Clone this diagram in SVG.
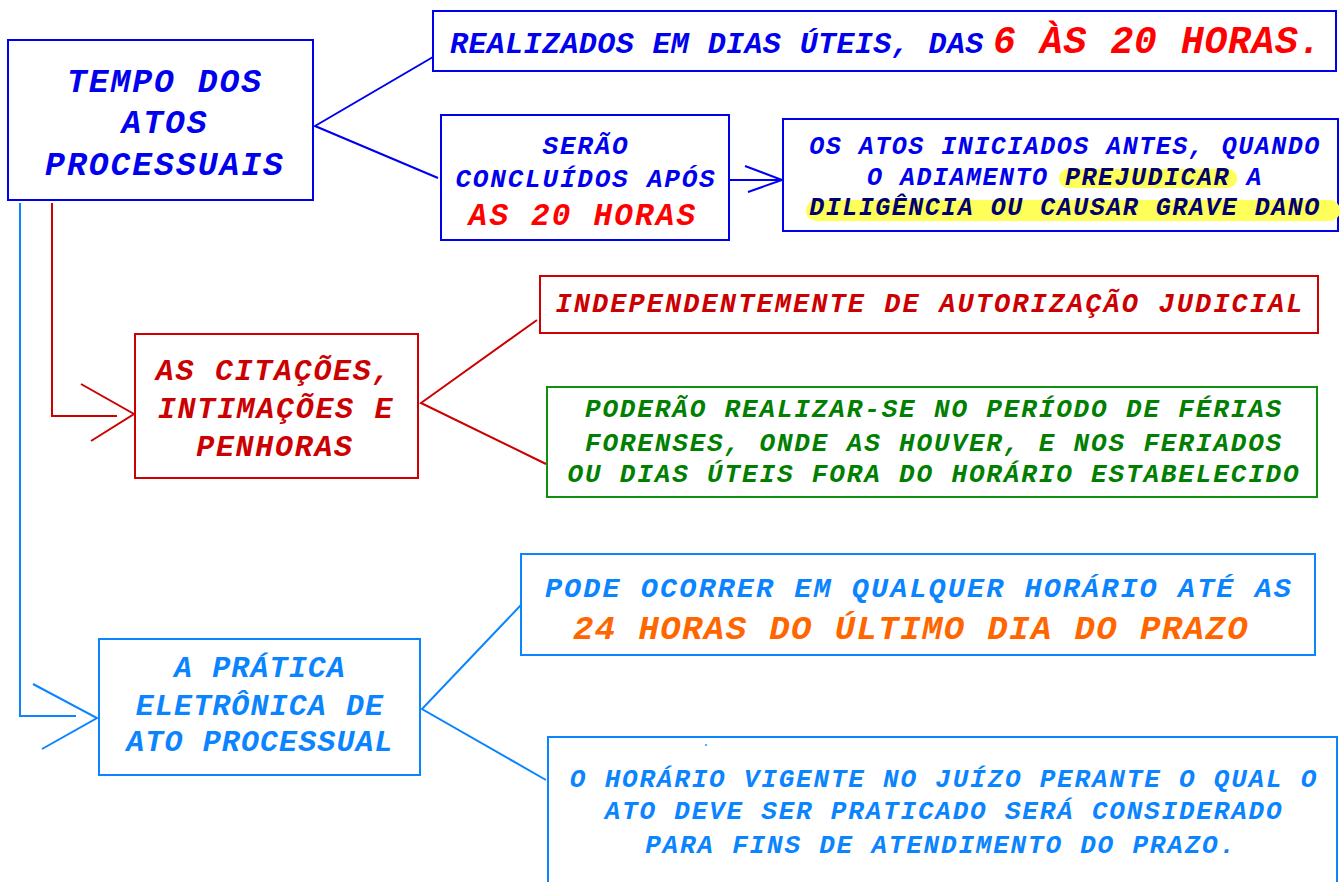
<svg xmlns="http://www.w3.org/2000/svg" width="1340" height="882" viewBox="0 0 1340 882">
<style>
text{font-family:"Liberation Mono","Courier New",monospace;font-weight:bold;font-style:italic;text-anchor:middle}
.box{fill:#fff;stroke-width:2}
.c{fill:none;stroke-width:2;stroke-linejoin:miter}
.dblue{stroke:#0000f0}
.red2{stroke:#cc0000}
.green{stroke:#109010}
.lblue{stroke:#0a84ff}
.tb{fill:#0000ee}
.tr{fill:#ff0000}
.tdr{fill:#cc0000}
.tg{fill:#007f00}
.tl{fill:#0a84ff}
.to{fill:#ff6600}
.tn{fill:#000070}
.hl{fill:#ffff5a}
</style>
<rect width="1340" height="882" fill="#fff"/>
<g id="connectors">
<polyline class="c dblue" points="433,57 315,126 438,178"/>
<line class="c dblue" x1="729" y1="180" x2="781" y2="180"/>
<polyline class="c dblue" points="745,166 782,180 748,192"/>
<polyline class="c red2" points="52,203 52,416 117,416"/>
<polyline class="c red2" points="81,384 134,414 91,441"/>
<polyline class="c red2" points="537,320 421,403 546,464"/>
<polyline class="c lblue" points="20,203 20,716 76,716"/>
<polyline class="c lblue" points="33,684 97,718 42,749"/>
<polyline class="c lblue" points="521,605 422,709 546,780"/>
</g>
<g id="tempo">
<rect class="box dblue" x="8" y="40" width="305" height="160"/>
<text class="tb" font-size="33" letter-spacing="2" x="165" y="92">TEMPO DOS</text>
<text class="tb" font-size="33" letter-spacing="2" x="165" y="133">ATOS</text>
<text class="tb" font-size="33" letter-spacing="2" x="165" y="175">PROCESSUAIS</text>
</g>
<g id="realizados">
<rect class="box dblue" x="433" y="11" width="903" height="60"/>
<text style="text-anchor:start" x="450" y="53"><tspan class="tb" font-size="30" letter-spacing="0.4">REALIZADOS EM DIAS ÚTEIS, DAS</tspan><tspan class="tr" x="993" font-size="38" letter-spacing="0.7">6 ÀS 20 HORAS.</tspan></text>
</g>
<g id="serao">
<rect class="box dblue" x="441" y="115" width="288" height="125"/>
<text class="tb" font-size="26" letter-spacing="1.8" x="586" y="154">SERÃO</text>
<text class="tb" font-size="26" letter-spacing="1.8" x="586" y="187">CONCLUÍDOS APÓS</text>
<text class="tr" font-size="31" letter-spacing="2.2" x="583" y="225">AS 20 HORAS</text>
</g>
<g id="atos-iniciados">
<rect class="box dblue" x="783" y="119" width="555" height="112"/>
<rect class="hl" x="1059" y="169" width="178" height="19" rx="9"/>
<rect class="hl" x="806" y="200" width="534" height="21" rx="10"/>
<text class="tb" font-size="25" letter-spacing="1.5" x="1065" y="154">OS ATOS INICIADOS ANTES, QUANDO</text>
<text font-size="25" letter-spacing="1.5" x="1065" y="185"><tspan class="tb">O ADIAMENTO </tspan><tspan class="tn">PREJUDICAR</tspan><tspan class="tb"> A</tspan></text>
<text class="tn" font-size="25" letter-spacing="1.5" x="1065" y="215">DILIGÊNCIA OU CAUSAR GRAVE DANO</text>
</g>
<g id="citacoes">
<rect class="box red2" x="135" y="334" width="283" height="144"/>
<text class="tdr" font-size="30" letter-spacing="1.7" x="274" y="380">AS CITAÇÕES,</text>
<text class="tdr" font-size="30" letter-spacing="1.7" x="276" y="418">INTIMAÇÕES E</text>
<text class="tdr" font-size="30" letter-spacing="1.7" x="275" y="456">PENHORAS</text>
</g>
<g id="independentemente">
<rect class="box red2" x="540" y="276" width="778" height="57"/>
<text class="tdr" font-size="27" letter-spacing="2.07" x="930" y="312">INDEPENDENTEMENTE DE AUTORIZAÇÃO JUDICIAL</text>
</g>
<g id="poderao">
<rect class="box green" x="547" y="387" width="770" height="110"/>
<text class="tg" font-size="26" letter-spacing="1.85" x="934" y="417">PODERÃO REALIZAR-SE NO PERÍODO DE FÉRIAS</text>
<text class="tg" font-size="26" letter-spacing="1.85" x="934" y="451">FORENSES, ONDE AS HOUVER, E NOS FERIADOS</text>
<text class="tg" font-size="26" letter-spacing="1.85" x="934" y="482">OU DIAS ÚTEIS FORA DO HORÁRIO ESTABELECIDO</text>
</g>
<g id="pratica">
<rect class="box lblue" x="99" y="639" width="321" height="136"/>
<text class="tl" font-size="30" letter-spacing="1.1" x="260" y="677">A PRÁTICA</text>
<text class="tl" font-size="30" letter-spacing="1.1" x="260" y="715">ELETRÔNICA DE</text>
<text class="tl" font-size="30" letter-spacing="1.1" x="260" y="751">ATO PROCESSUAL</text>
</g>
<g id="pode-ocorrer">
<rect class="box lblue" x="521" y="554" width="794" height="101"/>
<text class="tl" font-size="28.5" letter-spacing="2.08" x="919" y="597">PODE OCORRER EM QUALQUER HORÁRIO ATÉ AS</text>
<text class="to" font-size="34" letter-spacing="1.4" x="911" y="639">24 HORAS DO ÚLTIMO DIA DO PRAZO</text>
</g>
<g id="horario-vigente">
<rect class="box lblue" x="548" y="737" width="789" height="160"/>
<circle cx="706" cy="745" r="0.9" fill="#0a84ff"/>
<text class="tl" font-size="26" letter-spacing="1.8" x="944" y="787">O HORÁRIO VIGENTE NO JUÍZO PERANTE O QUAL O</text>
<text class="tl" font-size="26" letter-spacing="1.8" x="944" y="819">ATO DEVE SER PRATICADO SERÁ CONSIDERADO</text>
<text class="tl" font-size="26" letter-spacing="1.8" x="941" y="853">PARA FINS DE ATENDIMENTO DO PRAZO.</text>
</g>
</svg>
